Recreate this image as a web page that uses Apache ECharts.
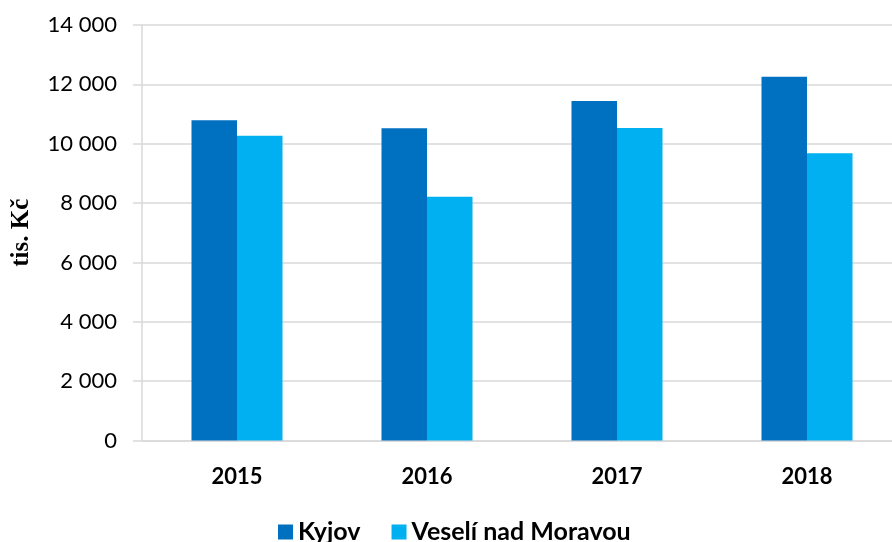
<!DOCTYPE html>
<html>
<head>
<meta charset="utf-8">
<script src="https://cdn.jsdelivr.net/npm/echarts@6/dist/echarts.min.js"></script>
<style>html,body{margin:0;padding:0;background:#fff;overflow:hidden}#c{width:902px;height:542px}</style>
</head>
<body>
<div id="c"></div>
<script>
const categories = ['2015', '2016', '2017', '2018'];
const kyjov = [10790, 10520, 11440, 12260];
const veseli = [10270, 8210, 10530, 9680];
const seriesNames = ['Kyjov', 'Veselí nad Moravou'];
const yTicks = [0, 2000, 4000, 6000, 8000, 10000, 12000, 14000];

const chart = echarts.init(document.getElementById('c'), null, {renderer: 'canvas'});
const fmt = v => String(v).replace(/\B(?=(\d{3})+(?!\d))/g, ' ');
chart.setOption({
  animation: false,
  backgroundColor: '#fff',
  textStyle: {fontFamily: 'Lato, sans-serif'},
  grid: {left: 142, top: 25, right: 0, height: 415.5, containLabel: false},
  legend: {
    data: seriesNames,
    left: 278, top: 519.5, padding: 0,
    itemWidth: 15, itemHeight: 15, itemGap: 31,
    icon: 'rect',
    textStyle: {fontFamily: 'Lato', fontWeight: 'bold', fontSize: 25, color: '#000', padding: [0, 0, 0, 0]}
  },
  xAxis: {
    type: 'category',
    data: categories,
    axisLine: {lineStyle: {color: '#d9d9d9', width: 1.5}},
    axisTick: {show: false},
    axisLabel: {fontFamily: 'Lato', fontWeight: 'bold', fontSize: 22, color: '#000', margin: 25}
  },
  yAxis: {
    type: 'value',
    min: yTicks[0], max: yTicks[yTicks.length - 1], interval: 2000,
    name: 'tis. Kč',
    nameLocation: 'middle',
    nameGap: 108,
    nameTextStyle: {fontFamily: 'Liberation Serif', fontWeight: 'bold', fontSize: 25, color: '#000'},
    axisLine: {show: true, lineStyle: {color: '#d9d9d9', width: 1.5}},
    axisTick: {show: true, length: 9, lineStyle: {color: '#d9d9d9', width: 1.5}},
    splitLine: {lineStyle: {color: '#d9d9d9', width: 1.5}},
    axisLabel: {fontFamily: 'Lato', fontSize: 22, color: '#000', margin: 25, formatter: fmt}
  },
  series: [
    {name: seriesNames[0], type: 'bar', data: kyjov, barWidth: 45.5, barGap: '0%', itemStyle: {color: '#0070C0'}},
    {name: seriesNames[1], type: 'bar', data: veseli, barWidth: 45.5, barGap: '0%', itemStyle: {color: '#00B0F0'}}
  ]
});
</script>
</body>
</html>
